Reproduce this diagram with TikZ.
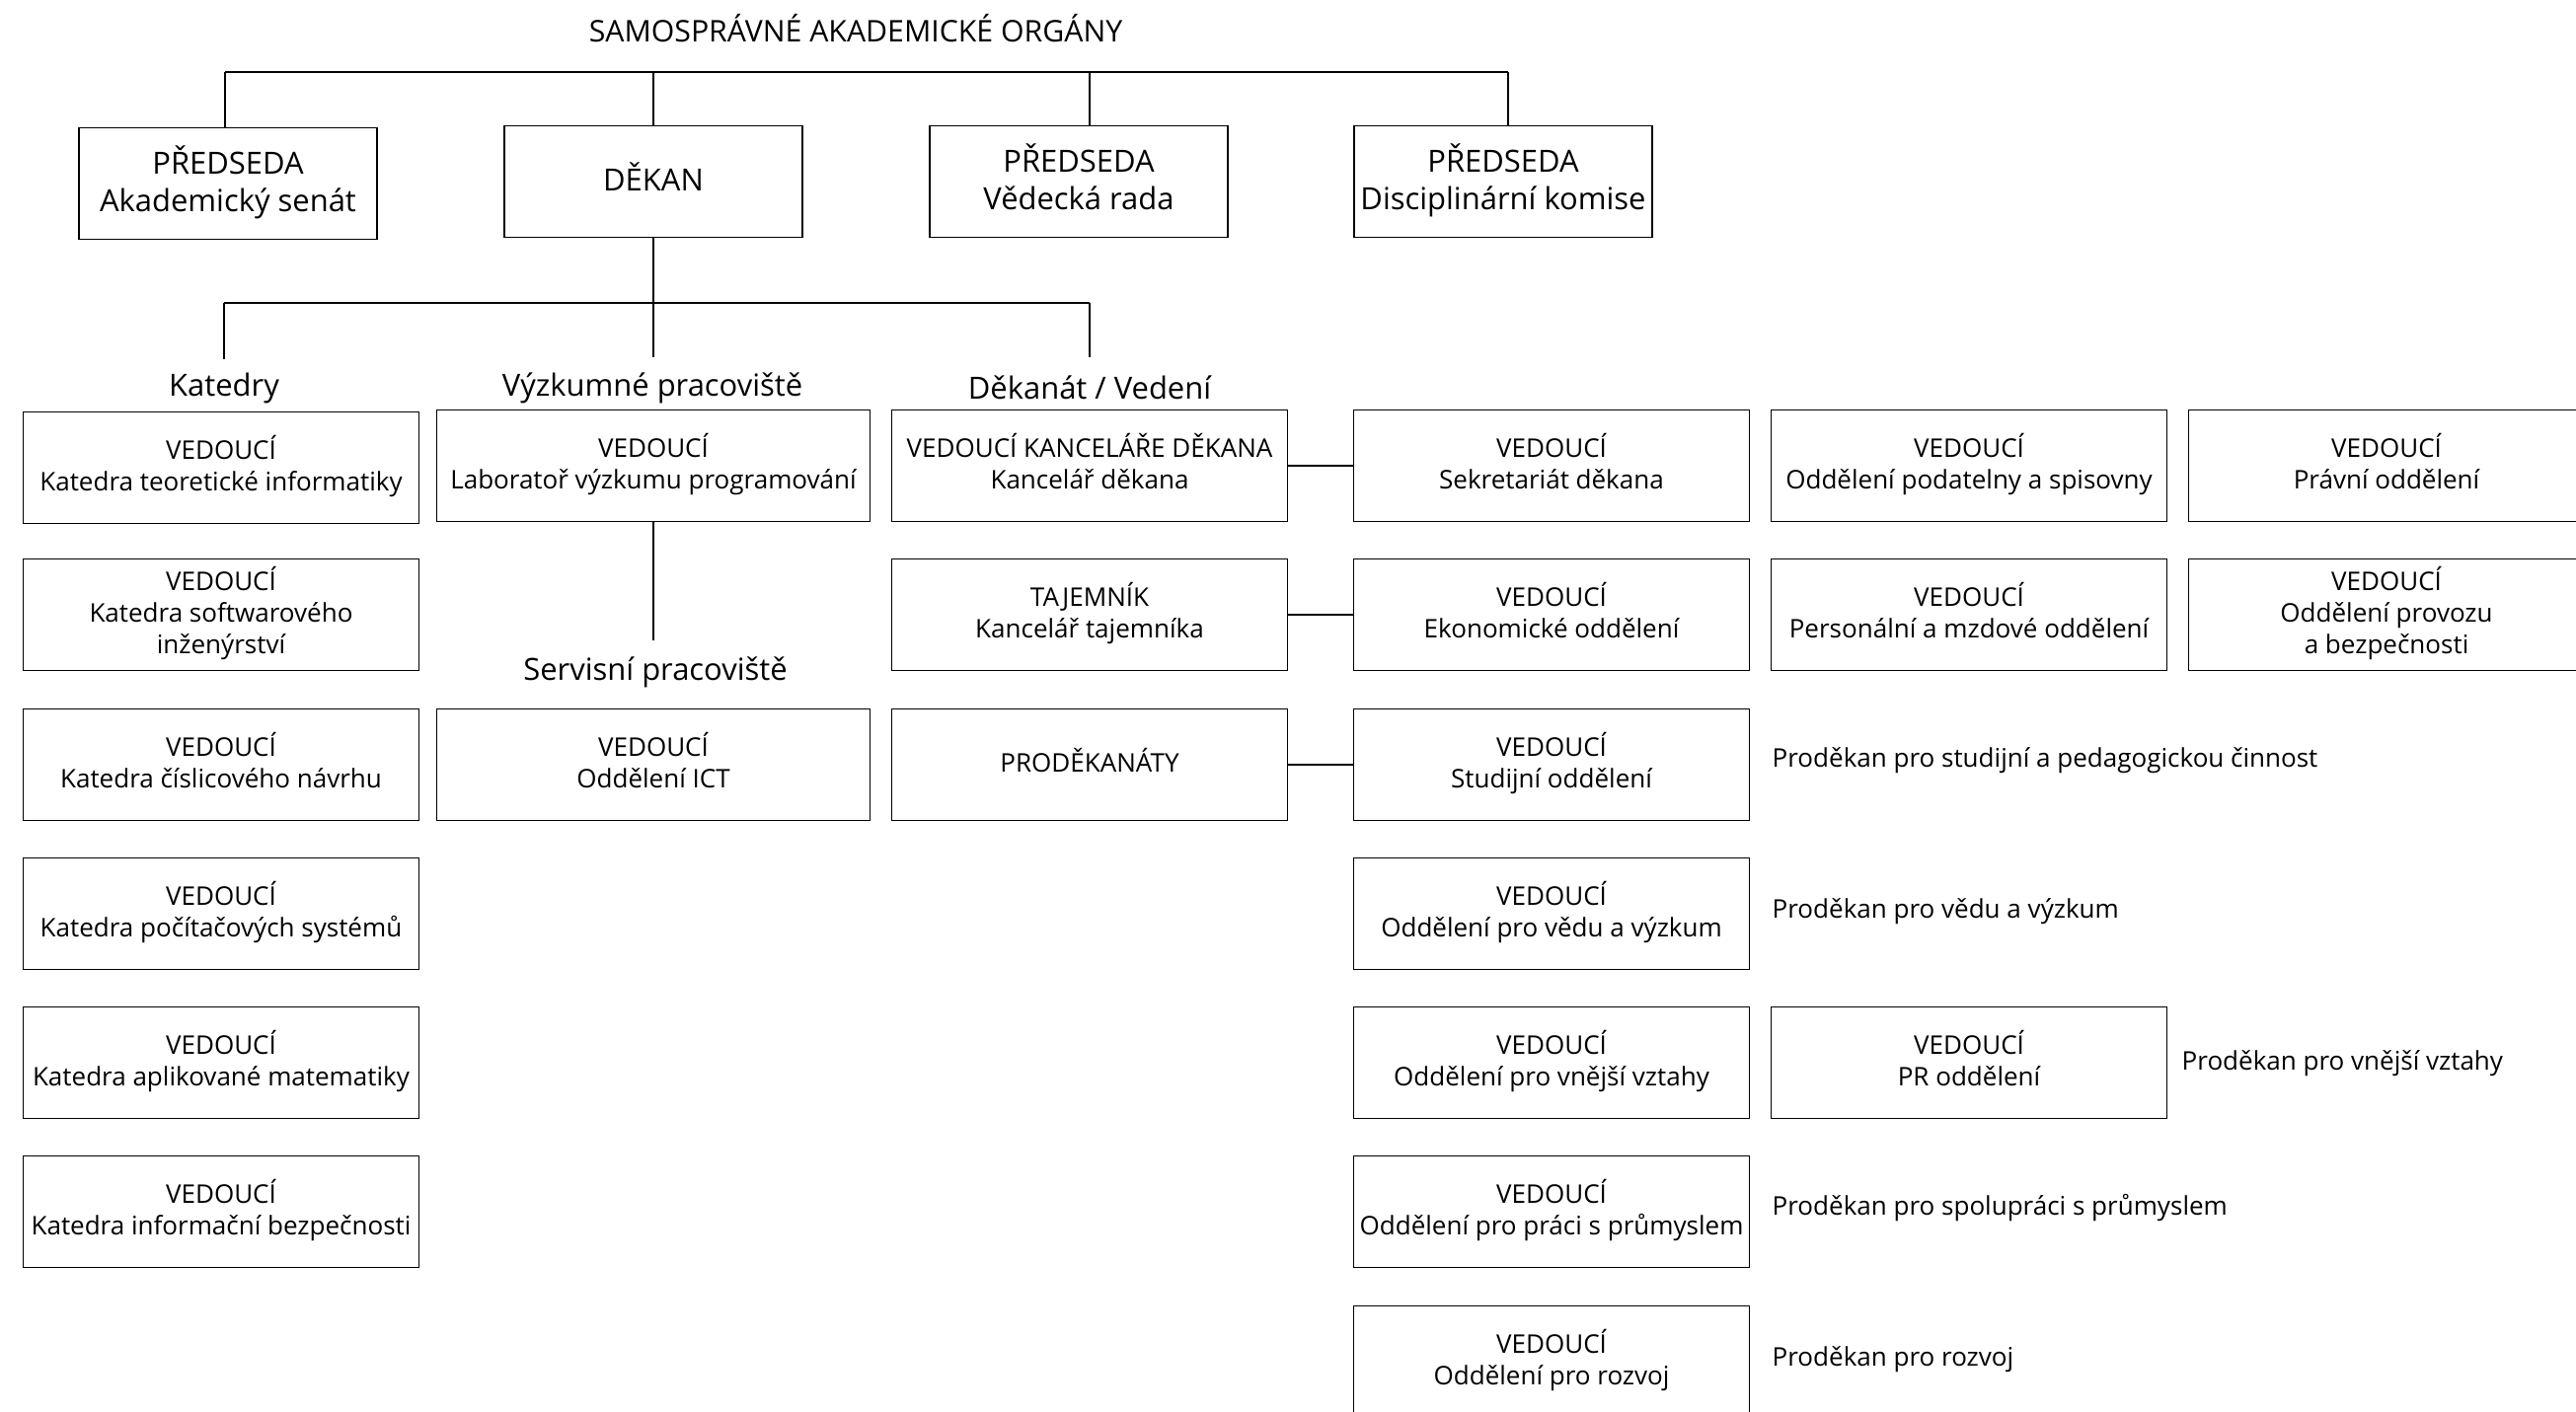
\documentclass[tikz,border=0pt]{standalone}
\usepackage{fontspec}
\setmainfont{Open Sans}
\newcommand{\boxfont}{\fontsize{7.4}{9.1}\selectfont}
\newcommand{\headfont}{\fontsize{8.8}{10.8}\selectfont}
\newcommand{\titlefont}{\fontsize{8.6}{10.8}\selectfont}

\begin{document}
\begin{tikzpicture}[x=0.01cm, y=-0.01cm,
	unit/.style={draw, rectangle, line width=0.45pt, minimum width=4.01cm, minimum height=1.13cm, inner sep=0pt, align=center, font=\boxfont, execute at end node={\rule[-2.6pt]{0pt}{0pt}}},
	chair/.style={draw, rectangle, line width=0.45pt, minimum width=3.02cm, minimum height=1.13cm, inner sep=0pt, align=center, font=\headfont, execute at end node={\rule[-2.6pt]{0pt}{0pt}}},
	grp/.style={inner sep=0pt, font=\headfont},
	note/.style={inner sep=0pt, anchor=west, font=\boxfont},
	link/.style={line width=0.65pt}]
				\useasboundingbox (0,0) rectangle (2610,1431);
				\node[grp, font=\titlefont] (T) at (867,29) {SAMOSPRÁVNÉ AKADEMICKÉ ORGÁNY};
				\node[chair] (AS) at (231,186) {PŘEDSEDA\\Akademický senát};
				\node[chair] (D) at (662,184) {DĚKAN};
				\node[chair] (VR) at (1093,184) {PŘEDSEDA\\Vědecká rada};
				\node[chair] (DK) at (1523,184) {PŘEDSEDA\\Disciplinární komise};
				\coordinate (b1) at (228,73);
				\coordinate (b3) at (1104,73);
				\coordinate (b4) at (1528,73);
				\draw[link] (b1) -- (b4);
				\draw[link] (b1) -- (AS.north -| b1);
				\draw[link] (D.north |- b1) -- (D.north);
				\draw[link] (b3) -- (VR.north -| b3);
				\draw[link] (b4) -- (DK.north -| b4);
				% deans branches
				\coordinate (c1) at (227,307);
				\coordinate (c3) at (1104,307);
				\coordinate (e1) at (227,364);
				\coordinate (e2) at (662,362);
				\coordinate (e3) at (1104,362);
				\draw[link] (c1) -- (c3);
				\draw[link] (D.south) -- (e2);
				\draw[link] (c1) -- (e1);
				\draw[link] (c3) -- (e3);
				\node[grp] (G1) at (227,393) {Katedry};
				\node[grp] (G2) at (661,393) {Výzkumné pracoviště};
				\node[grp] (G3) at (1104,393) {Děkanát / Vedení};
				% katedry
				\node[unit] (K1) at (224,474) {VEDOUCÍ\\Katedra teoretické informatiky};
				\node[unit] (K2) at (224,623) {VEDOUCÍ\\Katedra softwarového\\inženýrství};
				\node[unit] (K3) at (224,775) {VEDOUCÍ\\Katedra číslicového návrhu};
				\node[unit] (K4) at (224,926) {VEDOUCÍ\\Katedra počítačových systémů};
				\node[unit] (K5) at (224,1077) {VEDOUCÍ\\Katedra aplikované matematiky};
				\node[unit] (K6) at (224,1228) {VEDOUCÍ\\Katedra informační bezpečnosti};
				% vyzkum
				\node[unit, minimum width=4.39cm] (L) at (662,472) {VEDOUCÍ\\Laboratoř výzkumu programování};
				\coordinate (e4) at (L.south |- 0,649);
				\draw[link] (L.south) -- (e4);
				\node[grp] (G4) at (664,681) {Servisní pracoviště};
				\node[unit, minimum width=4.39cm] (ICT) at (662,775) {VEDOUCÍ\\Oddělení ICT};
				% dekanat
				\node[unit] (KD) at (1104,472) {VEDOUCÍ KANCELÁŘE DĚKANA\\Kancelář děkana};
				\node[unit] (KT) at (1104,623) {TAJEMNÍK\\Kancelář tajemníka};
				\node[unit] (PD) at (1104,775) {PRODĚKANÁTY};
				\node[unit] (SD) at (1572,472) {VEDOUCÍ\\Sekretariát děkana};
				\node[unit] (EO) at (1572,623) {VEDOUCÍ\\Ekonomické oddělení};
				\node[unit] (SO) at (1572,775) {VEDOUCÍ\\Studijní oddělení};
				\node[unit] (OV) at (1572,926) {VEDOUCÍ\\Oddělení pro vědu a výzkum};
				\node[unit] (OZ) at (1572,1077) {VEDOUCÍ\\Oddělení pro vnější vztahy};
				\node[unit] (OP) at (1572,1228) {VEDOUCÍ\\Oddělení pro práci s průmyslem};
				\node[unit] (OR) at (1572,1380) {VEDOUCÍ\\Oddělení pro rozvoj};
				\node[unit] (PS) at (1995,472) {VEDOUCÍ\\Oddělení podatelny a spisovny};
				\node[unit] (PM) at (1995,623) {VEDOUCÍ\\Personální a mzdové oddělení};
				\node[unit] (PR) at (1995,1077) {VEDOUCÍ\\PR oddělení};
				\node[unit] (PO) at (2418,472) {VEDOUCÍ\\Právní oddělení};
				\node[unit] (PB) at (2418,623) {VEDOUCÍ\\Oddělení provozu\\a bezpečnosti};
				\draw[link] (KD.east) -- (SD.west);
				\draw[link] (KT.east) -- (EO.west);
				\draw[link] (PD.east) -- (SO.west);
				% prodekani
				\node[note] (N1) at (1795,771) {Proděkan pro studijní a pedagogickou činnost};
				\node[note] (N2) at (1795,924) {Proděkan pro vědu a výzkum};
				\node[note] (N3) at (2210,1078) {Proděkan pro vnější vztahy};
				\node[note] (N4) at (1795,1224) {Proděkan pro spolupráci s průmyslem};
				\node[note] (N5) at (1795,1378) {Proděkan pro rozvoj};
			\end{tikzpicture}
\end{document}
